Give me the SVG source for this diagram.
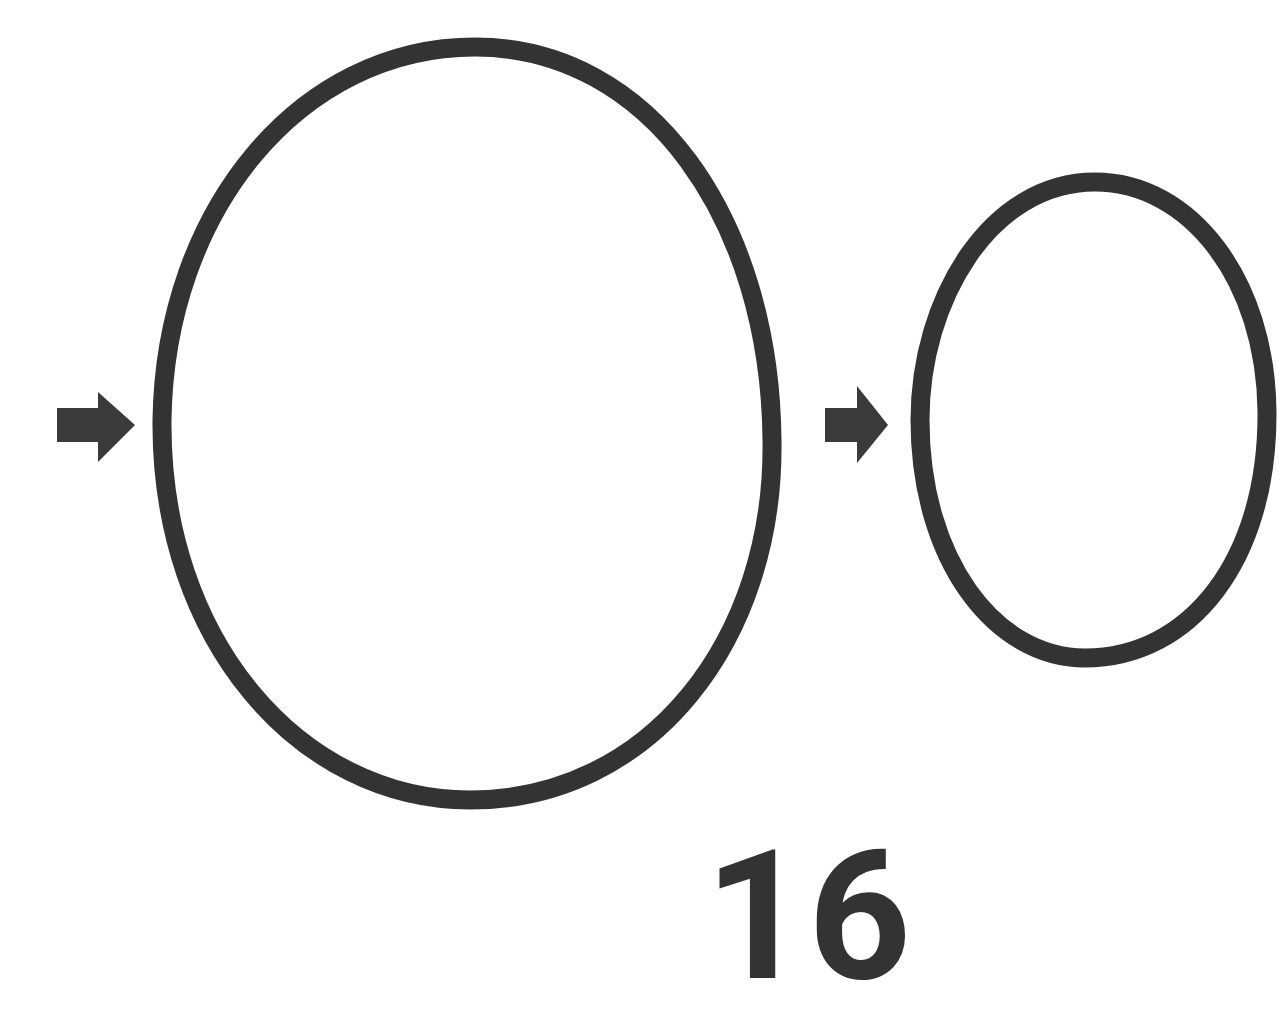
<svg xmlns="http://www.w3.org/2000/svg" width="1287" height="1015" viewBox="0 0 1287 1015">
<style>
.ring{fill:none;stroke:#333;stroke-width:19}
.arr{fill:#3a3a3a}
.lbl{font-family:Roboto,"Liberation Sans",sans-serif;font-weight:bold;font-size:180px;fill:#333}
</style>
<rect width="1287" height="1015" fill="#fff"/>
<g id="node-big"><path class="ring" d="M475,47 C300,47 165,210 162,420 C160,640 300,800 470,800 C650,800 775,640 772,440 C770,220 650,47 475,47 Z"/></g>
<g id="node-small"><path class="ring" d="M1095,182 C990,182 920,300 920,420 C920,560 995,658 1085,658 C1190,658 1268,560 1267,412 C1266,280 1190,182 1095,182 Z"/></g>
<g id="connectors">
<path class="arr" d="M57,408 L98,408 L98,392 L135,425 L98,462 L98,442 L57,442 Z"/>
<path class="arr" d="M825,408 L857,408 L857,386 L888,425 L857,463 L857,442 L825,442 Z"/>
</g>
<g id="label"><text class="lbl" x="808" y="978" text-anchor="middle">16</text></g>
</svg>
